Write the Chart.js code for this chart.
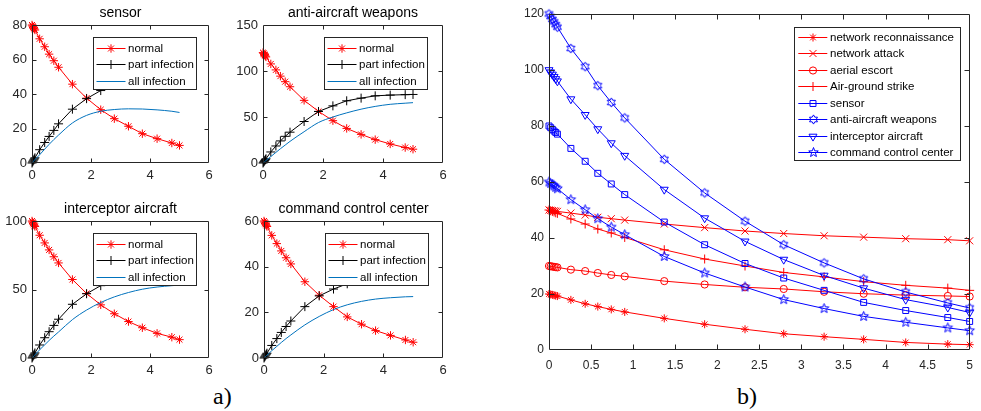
<!DOCTYPE html>
<html><head><meta charset="utf-8">
<script src="https://cdn.jsdelivr.net/npm/chart.js@4/dist/chart.umd.min.js"></script>
<style>
html,body{margin:0;padding:0;background:#fff;}
#wrap{position:relative;width:981px;height:411px;overflow:hidden;background:#fff;}
canvas{position:absolute;}
.lab{position:absolute;font-family:'Liberation Serif','Times New Roman',serif;font-size:24px;color:#000;line-height:24px;}
</style></head><body>
<div id="wrap">
<canvas id="cSensor" width="221" height="187" style="left:0px;top:0px"></canvas>
<canvas id="cAnti" width="224" height="187" style="left:231px;top:0px"></canvas>
<canvas id="cInter" width="221" height="186" style="left:0px;top:196px"></canvas>
<canvas id="cCmd" width="223" height="186" style="left:232px;top:196px"></canvas>
<canvas id="cAll" width="466" height="376" style="left:515px;top:0px"></canvas>
<div class="lab" style="left:213px;top:384px">a)</div>
<div class="lab" style="left:737px;top:384px">b)</div>
</div>
<script>
// ---- data ----
const tValues = [0, 0.02, 0.04, 0.06, 0.08, 0.1, 0.26, 0.43, 0.58, 0.74, 0.9, 1.37, 1.85, 2.33, 2.79, 3.27, 3.74, 4.24, 4.74, 5.0];

const sensorNormal = [80, 79.4, 78.8, 78.2, 77.7, 77.1, 72, 67.4, 63.1, 59.3, 55.5, 45.7, 37.6, 30.9, 25.7, 21.3, 17, 14.1, 11.6, 10.2];
const sensorPart   = [0, 0.6, 1.2, 1.8, 2.4, 3.0, 7.7, 11.9, 15.4, 18.9, 22.7, 31.2, 37.3, 42, 45.5, 48, 49.5, 50.5, 51, 51.2];
const sensorAll    = [0, 0.4, 0.8, 1.2, 1.6, 2.0, 4.8, 8.0, 10.8, 13.6, 16.2, 23.2, 27.6, 30.0, 31.0, 31.4, 31.3, 30.8, 30.0, 29.3];

const antiNormal = [120, 119.1, 118.1, 117.2, 116.2, 115.3, 107.7, 101.2, 94.4, 88.4, 82.9, 68.1, 56.1, 46, 37.6, 31.1, 25.4, 20.7, 16.8, 15];
const antiPart   = [0, 0.9, 1.8, 2.8, 3.7, 4.6, 12, 18.5, 24, 29, 33.5, 45.1, 56, 62.1, 67.6, 70.5, 73, 73.8, 74.3, 74.5];
const antiAll    = [0, 0.54, 1.1, 1.6, 2.2, 2.7, 7, 11.5, 15.5, 19.5, 23.5, 34, 44, 50, 54.5, 58.5, 61.5, 63.8, 65, 65.6];

const interNormal = [100, 99.2, 98.4, 97.6, 96.8, 96, 89.6, 84, 78.9, 73.9, 69.4, 57.3, 47.1, 38.8, 32.3, 26.6, 22.1, 18, 15.2, 13.4];
const interPart   = [0, 0.7, 1.5, 2.2, 2.9, 3.7, 9.5, 14.8, 19.2, 23.8, 28.3, 39.2, 46.9, 52.8, 57, 60, 62, 63.3, 64, 64.3];
const interAll    = [0, 0.46, 0.92, 1.4, 1.8, 2.3, 6, 9.6, 12.8, 16, 19, 28, 35, 40.5, 44.6, 47.8, 50.2, 51.8, 52.8, 53.2];

const cmdNormal = [60, 59.5, 59, 58.6, 58.1, 57.6, 53.7, 50.1, 46.9, 43.9, 41.2, 33.4, 27.5, 22.5, 18, 14.8, 12, 9.9, 7.9, 6.9];
const cmdPart   = [0, 0.42, 0.85, 1.3, 1.7, 2.1, 5.5, 8.5, 11.2, 13.8, 16.2, 22.5, 27.2, 30.2, 32.5, 34, 35, 35.6, 36, 36.2];
const cmdAll    = [0, 0.25, 0.5, 0.74, 1.0, 1.2, 3.2, 5.1, 6.8, 8.5, 10.1, 14.5, 18.2, 21.2, 23.3, 24.8, 25.8, 26.4, 26.8, 26.9];

const reconValues  = [20, 19.85, 19.7, 19.55, 19.4, 19.25, 17.9, 16.5, 15.5, 14.5, 13.6, 11.3, 9.2, 7.4, 5.8, 4.75, 3.8, 2.7, 2.1, 1.9];
const attackValues = [50, 49.9, 49.8, 49.7, 49.6, 49.5, 48.9, 48.2, 47.4, 46.9, 46.4, 45, 43.7, 42.5, 41.6, 40.8, 40.3, 39.75, 39.4, 39];
const escortValues = [30, 29.9, 29.8, 29.7, 29.6, 29.5, 28.7, 28.2, 27.5, 26.8, 26.3, 24.6, 23.4, 22.4, 21.8, 20.8, 20.1, 19.6, 19.3, 19.1];
const strikeValues = [50, 49.75, 49.5, 49.3, 49, 48.8, 46.8, 45, 43.2, 41.8, 40.2, 35.8, 32.5, 30, 27.7, 26.1, 24.4, 23.1, 22.1, 21.3];

const smallLegendLabels = ['normal', 'part infection', 'all infection'];
const bigLegendLabels = ['network reconnaissance', 'network attack', 'aerial escort', 'Air-ground strike',
  'sensor', 'anti-aircraft weapons', 'interceptor aircraft', 'command control center'];
const panelTitles = ['sensor', 'anti-aircraft weapons', 'interceptor aircraft', 'command control center'];

const smallXTicks = {min: 0, max: 6, step: 2};
const bigXTicks = {min: 0, max: 5, step: 0.5};
const bigYTicks = {min: 0, max: 120, step: 20};

// ---- styling helpers ----
const FONT = "'Liberation Sans', Arial, Helvetica, sans-serif";
const RED = '#ff0000', BLACK = '#000000', MBLUE = '#0072bd', BLUE = '#0000ff';

function starCanvas(n, outer, innerRatio, color) {
  const c = document.createElement('canvas');
  c.width = 13; c.height = 13;
  const g = c.getContext('2d');
  g.strokeStyle = color; g.lineWidth = 1;
  g.beginPath();
  for (let i = 0; i < 2 * n; i++) {
    const r = i % 2 === 0 ? outer : outer * innerRatio;
    const ang = -Math.PI / 2 + i * Math.PI / n;
    const px = 6.5 + r * Math.cos(ang), py = 6.5 + r * Math.sin(ang);
    if (i === 0) g.moveTo(px, py); else g.lineTo(px, py);
  }
  g.closePath(); g.stroke();
  return c;
}
const hexagram = starCanvas(6, 4.6, 0.577, BLUE);
const pentagram = starCanvas(5, 5, 0.42, BLUE);

function pts(vals) { return tValues.map((t, i) => ({x: t, y: vals[i]})); }

function mk(label, vals, color, style, radius, extra) {
  return Object.assign({
    label, data: pts(vals), borderColor: color, backgroundColor: 'rgba(0,0,0,0)',
    pointBorderColor: color, pointBackgroundColor: 'rgba(0,0,0,0)',
    pointStyle: style, pointRadius: radius, pointHoverRadius: radius, pointBorderWidth: 1,
    borderWidth: 1, showLine: true, tension: 0, clip: false, fill: false
  }, extra || {});
}

function drawMarker(ctx, style, r, rotDeg, x, y, color) {
  if (!r) return;
  if (style instanceof HTMLCanvasElement) { ctx.drawImage(style, Math.round(x - style.width / 2), Math.round(y - style.height / 2)); return; }
  ctx.save();
  ctx.strokeStyle = color; ctx.lineWidth = 1;
  ctx.beginPath();
  const d = r * Math.SQRT1_2;
  if (style === 'star' || style === 'cross') {
    ctx.moveTo(x - r, y); ctx.lineTo(x + r, y); ctx.moveTo(x, y - r); ctx.lineTo(x, y + r);
  }
  if (style === 'star' || style === 'crossRot') {
    ctx.moveTo(x - d, y - d); ctx.lineTo(x + d, y + d); ctx.moveTo(x - d, y + d); ctx.lineTo(x + d, y - d);
  }
  if (style === 'circle') ctx.arc(x, y, r, 0, Math.PI * 2);
  if (style === 'rect') ctx.rect(x - d, y - d, 2 * d, 2 * d);
  if (style === 'triangle') {
    let a = (rotDeg || 0) * Math.PI / 180;
    for (let i = 0; i < 3; i++) {
      const px = x + Math.sin(a) * r, py = y - Math.cos(a) * r;
      if (i === 0) ctx.moveTo(px, py); else ctx.lineTo(px, py);
      a += 2 * Math.PI / 3;
    }
    ctx.closePath();
  }
  ctx.stroke();
  ctx.restore();
}

const framePlugin = {
  id: 'frame',
  afterDatasetsDraw(chart, args, o) {
    const ctx = chart.ctx, a = chart.chartArea;
    const xs = chart.scales.x, ys = chart.scales.y;
    ctx.save();
    ctx.strokeStyle = '#262626'; ctx.lineWidth = 1;
    const L = Math.round(a.left) + 0.5, R = Math.round(a.right) - 0.5;
    const T = Math.round(a.top) + 0.5, B = Math.round(a.bottom) - 0.5;
    const tl = o.tick || 5;
    ctx.beginPath();
    ctx.rect(L, T, R - L, B - T);
    xs.ticks.forEach(t => {
      const p = Math.round(xs.getPixelForValue(t.value)) + 0.5;
      if (p - L < 1.5 || R - p < 1.5) return;
      ctx.moveTo(p, B); ctx.lineTo(p, B - tl); ctx.moveTo(p, T); ctx.lineTo(p, T + tl);
    });
    ys.ticks.forEach(t => {
      const p = Math.round(ys.getPixelForValue(t.value)) + 0.5;
      if (p - T < 1.5 || B - p < 1.5) return;
      ctx.moveTo(L, p); ctx.lineTo(L + tl, p); ctx.moveTo(R, p); ctx.lineTo(R - tl, p);
    });
    ctx.stroke();
    if (o.title) {
      ctx.fillStyle = '#000';
      ctx.font = o.titleSize + 'px ' + FONT;
      ctx.textAlign = 'center'; ctx.textBaseline = 'middle';
      ctx.fillText(o.title, (a.left + a.right) / 2, a.top - o.titleOffset);
    }
    // opaque legend box drawn over the data
    const lg = o.legend;
    if (lg) {
      const bx = Math.round(a.left + lg.dx), by = Math.round(a.top + lg.dy);
      ctx.fillStyle = '#ffffff';
      ctx.fillRect(bx, by, lg.w, lg.h);
      ctx.strokeStyle = '#262626';
      ctx.strokeRect(bx + 0.5, by + 0.5, lg.w - 1, lg.h - 1);
      ctx.font = lg.size + 'px ' + FONT;
      ctx.textAlign = 'left'; ctx.textBaseline = 'middle';
      chart.data.datasets.forEach((ds, i) => {
        const cy = Math.round(by + lg.row0 + i * lg.rowH) + 0.5;
        ctx.strokeStyle = ds.borderColor; ctx.lineWidth = ds.borderWidth;
        ctx.beginPath(); ctx.moveTo(bx + lg.l0, cy); ctx.lineTo(bx + lg.l1, cy); ctx.stroke();
        drawMarker(ctx, ds.pointStyle, ds.pointRadius, ds.rotation, bx + lg.mx, cy, ds.borderColor);
        ctx.fillStyle = '#000';
        ctx.fillText(ds.label, bx + lg.tx, cy);
      });
    }
    ctx.restore();
  }
};

function axis(min, max, step, size, pad, fixed, isX) {
  const s = {
    type: 'linear', min, max,
    ticks: {stepSize: step, padding: pad, color: '#262626', font: {size, family: FONT},
      callback: v => String(+Number(v).toFixed(3))},
    grid: {display: false, drawTicks: false}, border: {display: false}
  };
  if (isX) s.afterFit = sc => { sc.height = fixed; };
  else s.afterFit = sc => { sc.width = fixed; };
  return s;
}

function smallChart(id, title, yMax, yStep, normal, part, all) {
  return new Chart(document.getElementById(id), {
    type: 'scatter',
    data: {datasets: [
      mk(smallLegendLabels[0], normal, RED, 'star', 4.2, {order: 3}),
      mk(smallLegendLabels[1], part, BLACK, 'cross', 4.5, {order: 2}),
      mk(smallLegendLabels[2], all, MBLUE, 'circle', 0, {order: 1, cubicInterpolationMode: 'monotone'})
    ]},
    options: {
      responsive: false, animation: false, events: [],
      layout: {padding: {left: 0, top: 25, right: 12, bottom: 0}},
      plugins: {
        legend: {display: false}, tooltip: {enabled: false},
        frame: {title, titleSize: 14, titleOffset: 12, tick: 4,
          legend: {dx: 61, dy: 12, w: 104, h: 53, row0: 11, rowH: 16.3, l0: 3.5, l1: 32.5, mx: 18, tx: 35, size: 11.5}}
      },
      scales: {
        x: axis(smallXTicks.min, smallXTicks.max, smallXTicks.step, 13, 5, 24, true),
        y: axis(0, yMax, yStep, 13, 5, 32, false)
      }
    },
    plugins: [framePlugin]
  });
}

smallChart('cSensor', panelTitles[0], 80, 20, sensorNormal, sensorPart, sensorAll);
smallChart('cAnti', panelTitles[1], 150, 50, antiNormal, antiPart, antiAll);
smallChart('cInter', panelTitles[2], 100, 50, interNormal, interPart, interAll);
smallChart('cCmd', panelTitles[3], 60, 20, cmdNormal, cmdPart, cmdAll);

new Chart(document.getElementById('cAll'), {
  type: 'scatter',
  data: {datasets: [
    mk(bigLegendLabels[0], reconValues, RED, 'star', 4, {order: 8}),
    mk(bigLegendLabels[1], attackValues, RED, 'crossRot', 5, {order: 7}),
    mk(bigLegendLabels[2], escortValues, RED, 'circle', 3.6, {order: 6}),
    mk(bigLegendLabels[3], strikeValues, RED, 'cross', 4.5, {order: 5}),
    mk(bigLegendLabels[4], sensorNormal, BLUE, 'rect', 4.2, {order: 4}),
    mk(bigLegendLabels[5], antiNormal, BLUE, hexagram, 4, {order: 3}),
    mk(bigLegendLabels[6], interNormal, BLUE, 'triangle', 4.6, {order: 2, pointRotation: 180, rotation: 180}),
    mk(bigLegendLabels[7], cmdNormal, BLUE, pentagram, 4, {order: 1})
  ]},
  options: {
    responsive: false, animation: false, events: [],
    layout: {padding: {left: 0, top: 14, right: 8, bottom: 0}},
    plugins: {
      legend: {display: false}, tooltip: {enabled: false},
      frame: {tick: 5,
        legend: {dx: 245, dy: 12.5, w: 167, h: 134, row0: 10, rowH: 16.45, l0: 4.3, l1: 33.3, mx: 19, tx: 36, size: 11.5}}
    },
    scales: {
      x: axis(bigXTicks.min, bigXTicks.max, bigXTicks.step, 12, 8, 26, true),
      y: axis(bigYTicks.min, bigYTicks.max, bigYTicks.step, 12, 5, 34, false)
    }
  },
  plugins: [framePlugin]
});
</script>
</body></html>
